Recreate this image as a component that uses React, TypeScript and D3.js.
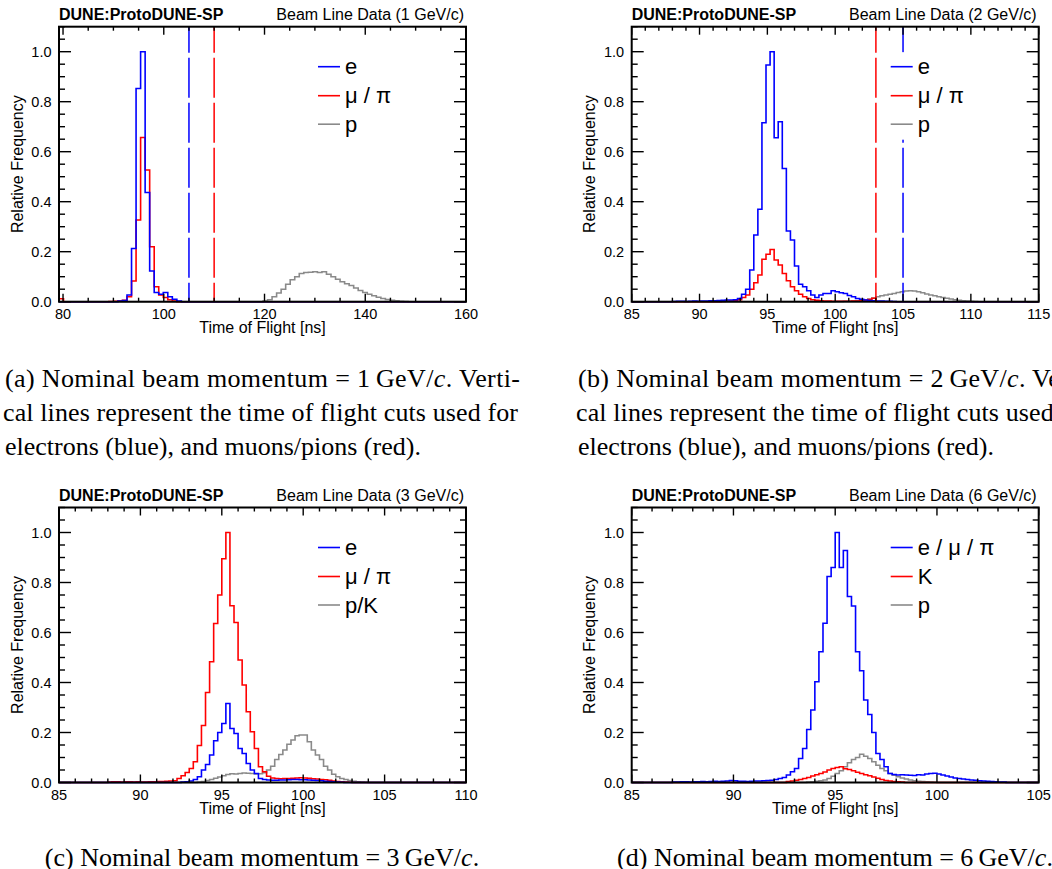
import React from 'react';
import * as d3 from 'd3';

// ---------------- DATA ----------------
// Panel (a): 1 GeV/c, bins of 0.9 ns
const A_DOMAIN = [79.2, 160];
const A_BIN = 0.9;
const A_X_TICKS = [80, 100, 120, 140, 160];
const A_E_START = 90.9;
const A_E = [0.003, 0.005, 0.027, 0.213, 0.853, 1.0, 0.437, 0.123, 0.037, 0.03, 0.037, 0.02, 0.01, 0.003];
const A_MU_START = 79.2;
const A_MU = [0.012, 0, 0, 0, 0, 0, 0, 0, 0, 0, 0, 0.001, 0.002, 0.003, 0.006, 0.02, 0.083, 0.327, 0.657, 0.527, 0.22, 0.06, 0.027, 0.017, 0.008, 0.003];
const A_P_START = 119.7;
const A_P = [0.003, 0.008, 0.02, 0.035, 0.05, 0.07, 0.088, 0.1, 0.113, 0.117, 0.118, 0.12, 0.117, 0.12, 0.11, 0.1, 0.09, 0.08, 0.072, 0.065, 0.055, 0.045, 0.037, 0.03, 0.024, 0.018, 0.013, 0.009, 0.006, 0.004, 0.002, 0.001];
const A_CUTS = [105, 110];

// Panel (b): 2 GeV/c, bins of 0.3 ns
const B_DOMAIN = [85, 115];
const B_BIN = 0.3;
const B_X_TICKS = [85, 90, 95, 100, 105, 110, 115];
const B_E_START = 88.0;
const B_E = [0.001, 0.002, 0.002, 0.001, 0.002, 0.003, 0.002, 0.003, 0.003, 0.004, 0.004, 0.005, 0.006, 0.007, 0.007,
  0.008, 0.013, 0.03, 0.05, 0.127, 0.267, 0.37, 0.716, 0.947, 1.0, 0.656, 0.72, 0.533, 0.283, 0.247, 0.143, 0.07, 0.06,
  0.044, 0.027, 0.017, 0.027, 0.033, 0.033, 0.044, 0.04, 0.036, 0.033, 0.025, 0.02, 0.013, 0.01, 0.007, 0.005, 0.004,
  0.003, 0.003, 0.002, 0.002, 0.001];
const B_MU_START = 91.6;
const B_MU = [0.001, 0.002, 0.003, 0.005, 0.008, 0.017, 0.027, 0.05, 0.076, 0.107, 0.17, 0.19, 0.209, 0.167, 0.147, 0.113,
  0.084, 0.06, 0.044, 0.03, 0.02, 0.013, 0.008, 0.006, 0.004, 0.003, 0.003, 0.002, 0.002, 0.002, 0.002, 0.002, 0.003,
  0.003, 0.004, 0.006, 0.009, 0.014];
const B_P_START = 100.0;
const B_P = [0.001, 0.001, 0.002, 0.002, 0.003, 0.004, 0.006, 0.008, 0.011, 0.015, 0.02, 0.024, 0.027, 0.03, 0.033, 0.037,
  0.04, 0.043, 0.044, 0.043, 0.04, 0.036, 0.031, 0.027, 0.024, 0.02, 0.017, 0.014, 0.011, 0.008, 0.006, 0.004, 0.003,
  0.002, 0.001];
const B_CUTS = [105, 103];

// Panel (c): 3 GeV/c, bins of 0.25 ns
const C_DOMAIN = [85, 110];
const C_BIN = 0.25;
const C_X_TICKS = [85, 90, 95, 100, 105, 110];
const C_E_START = 92.5;
const C_E = [0.002, 0.003, 0.006, 0.012, 0.023, 0.05, 0.072, 0.11, 0.167, 0.2, 0.236, 0.316, 0.216, 0.196, 0.136, 0.116,
  0.076, 0.05, 0.036, 0.016, 0.012, 0.01, 0.009, 0.009, 0.01, 0.01, 0.011, 0.012, 0.012, 0.011, 0.011, 0.01, 0.009,
  0.008, 0.007, 0.005, 0.004, 0.003, 0.002, 0.001];
const C_MU_START = 88.0;
const C_MU = [0.002, 0.003, 0.003, 0.002, 0.003, 0.003, 0.002, 0.003, 0.002, 0.002, 0.003, 0.003, 0.004, 0.004, 0.005,
  0.006, 0.007, 0.016, 0.027, 0.04, 0.056, 0.083, 0.148, 0.228, 0.36, 0.483, 0.636, 0.75, 0.895, 1.0, 0.707, 0.64, 0.49,
  0.39, 0.283, 0.203, 0.136, 0.063, 0.043, 0.025, 0.018, 0.016, 0.015, 0.016, 0.016, 0.017, 0.018, 0.019, 0.018, 0.017,
  0.015, 0.014, 0.012, 0.011, 0.009, 0.006, 0.004, 0.003, 0.002, 0.001];
const C_P_START = 93.5;
const C_P = [0.002, 0.004, 0.008, 0.012, 0.017, 0.022, 0.027, 0.032, 0.035, 0.034, 0.036, 0.038, 0.037, 0.036, 0.034,
  0.035, 0.039, 0.05, 0.065, 0.092, 0.112, 0.13, 0.153, 0.17, 0.187, 0.19, 0.19, 0.163, 0.13, 0.11, 0.092, 0.065, 0.05,
  0.033, 0.023, 0.016, 0.012, 0.008, 0.005, 0.003, 0.002, 0.001];

// Panel (d): 6 GeV/c, bins of 0.2 ns
const D_DOMAIN = [85, 105];
const D_BIN = 0.2;
const D_X_TICKS = [85, 90, 95, 100, 105];
const D_E_START = 87.0;
const D_E = [0.002, 0.002, 0.003, 0.003, 0.002, 0.003, 0.003, 0.004, 0.003, 0.004, 0.005, 0.004, 0.005, 0.006, 0.008,
  0.007, 0.005, 0.005, 0.004, 0.005, 0.006, 0.006, 0.007, 0.008, 0.009, 0.012, 0.016, 0.02, 0.03, 0.043, 0.056, 0.096,
  0.136, 0.212, 0.29, 0.403, 0.523, 0.637, 0.824, 0.86, 1.0, 0.86, 0.928, 0.744, 0.706, 0.523, 0.447, 0.33, 0.272, 0.2,
  0.116, 0.092, 0.063, 0.036, 0.032, 0.03, 0.031, 0.03, 0.029, 0.028, 0.031, 0.03, 0.034, 0.036, 0.037, 0.034, 0.03,
  0.026, 0.022, 0.018, 0.016, 0.014, 0.012, 0.01, 0.009, 0.007, 0.006, 0.005, 0.004, 0.003, 0.002, 0.002];
const D_K_START = 92.6;
const D_K = [0.004, 0.006, 0.009, 0.012, 0.016, 0.02, 0.026, 0.031, 0.036, 0.042, 0.05, 0.056, 0.06, 0.063, 0.055, 0.052,
  0.047, 0.041, 0.036, 0.031, 0.027, 0.022, 0.017, 0.012, 0.008, 0.006, 0.004, 0.003, 0.002];
const D_P_START = 93.6;
const D_P = [0.002, 0.003, 0.005, 0.007, 0.01, 0.016, 0.025, 0.036, 0.047, 0.063, 0.079, 0.092, 0.1, 0.113, 0.105, 0.096,
  0.083, 0.069, 0.056, 0.047, 0.036, 0.029, 0.023, 0.018, 0.014, 0.01, 0.007, 0.005, 0.004, 0.003, 0.002, 0.001];

const Y_TICKS = [0, 0.2, 0.4, 0.6, 0.8, 1.0];
const Y_MAX = 1.1;

// ---------------- STYLE ----------------
const W = 1052;
const H = 869;
const FRAME_W = 407;
const FRAME_H = 275;
const SANS = "'Liberation Sans', Arial, Helvetica, sans-serif";
const SERIF = "'Liberation Serif', 'Times New Roman', Times, serif";
const BLUE = '#0000ff';
const RED = '#ff0000';
const GREY = '#8a8a8a';

type Series = { start: number; values: number[]; color: string; label: string };

type PanelProps = {
  left: number;
  top: number;
  domain: number[];
  bin: number;
  xTicks: number[];
  minorStep: number;
  series: Series[];
  cuts?: { value: number; color: string }[];
  momentum: string;
};

function histPath(x: any, y: any, domain: number[], s: Series, bin: number) {
  const p = d3.path();
  p.moveTo(x(domain[0]), y(0));
  p.lineTo(x(s.start), y(0));
  s.values.forEach((v, i) => {
    p.lineTo(x(s.start + i * bin), y(v));
    p.lineTo(x(s.start + (i + 1) * bin), y(v));
  });
  p.lineTo(x(s.start + s.values.length * bin), y(0));
  p.lineTo(x(domain[1]), y(0));
  return p.toString();
}

function Panel(props: PanelProps) {
  const { left, top, domain, bin, xTicks, minorStep, series, cuts, momentum } = props;
  const x = d3.scaleLinear().domain(domain).range([left, left + FRAME_W]);
  const y = d3.scaleLinear().domain([0, Y_MAX]).range([top + FRAME_H, top]);
  const bottom = top + FRAME_H;
  const right = left + FRAME_W;
  const xMinor = d3.range(Math.ceil(domain[0] / minorStep) * minorStep, domain[1] + 1e-6, minorStep);
  const yMinor = d3.range(0, Y_MAX + 1e-6, 0.05);
  const fmtY = d3.format('.1f');
  const drawOrder = [...series].reverse();
  const legX = left + 259;
  const legRows = [40, 69, 97.5];

  return (
    <g>
      {/* histograms */}
      {drawOrder.map((s, i) => (
        <path key={'h' + i} d={histPath(x, y, domain, s, bin)} fill="none" stroke={s.color} strokeWidth={1.6} strokeLinejoin="miter" />
      ))}
      {/* cut lines */}
      {(cuts || []).map((c, i) => (
        <line key={'c' + i} x1={x(c.value)} x2={x(c.value)} y1={top} y2={bottom} stroke={c.color} strokeWidth={1.5}
          strokeDasharray="40 5" strokeDashoffset={14} />
      ))}
      {/* legend */}
      <rect x={legX - 6} y={top + legRows[0] - 14.5} width={118} height={legRows[2] - legRows[0] + 30} fill="#fff" />
      {series.map((s, i) => (
        <g key={'l' + i}>
          <line x1={legX} x2={legX + 22} y1={top + legRows[i]} y2={top + legRows[i]} stroke={s.color} strokeWidth={1.6} />
          <text x={legX + 27} y={top + legRows[i] + 7.5} fontFamily={SANS} fontSize={22} fill="#000">{s.label}</text>
        </g>
      ))}
      {/* ticks */}
      {yMinor.map((v, i) => {
        const major = Y_TICKS.some(t => Math.abs(t - v) < 1e-6);
        const len = major ? 12 : 6;
        return (
          <g key={'yt' + i}>
            <line x1={left} x2={left + len} y1={y(v)} y2={y(v)} stroke="#000" strokeWidth={1.4} />
            <line x1={right} x2={right - len} y1={y(v)} y2={y(v)} stroke="#000" strokeWidth={1.4} />
          </g>
        );
      })}
      {xMinor.map((v, i) => {
        const major = xTicks.some(t => Math.abs(t - v) < 1e-6);
        const len = major ? 8 : 4;
        return (
          <g key={'xt' + i}>
            <line x1={x(v)} x2={x(v)} y1={bottom} y2={bottom - len} stroke="#000" strokeWidth={1.4} />
            <line x1={x(v)} x2={x(v)} y1={top} y2={top + len} stroke="#000" strokeWidth={1.4} />
          </g>
        );
      })}
      {/* frame */}
      <rect x={left} y={top} width={FRAME_W} height={FRAME_H} fill="none" stroke="#000" strokeWidth={2} />
      {/* tick labels */}
      {Y_TICKS.map((v, i) => (
        <text key={'yl' + i} x={left - 7.5} y={y(v) + 5} textAnchor="end" fontFamily={SANS} fontSize={14.5} fill="#000">{fmtY(v)}</text>
      ))}
      {xTicks.map((v, i) => (
        <text key={'xl' + i} x={x(v)} y={bottom + 17.6} textAnchor="middle" fontFamily={SANS} fontSize={14.5} fill="#000">{v}</text>
      ))}
      {/* axis titles */}
      <text x={(left + right) / 2} y={bottom + 31.5} textAnchor="middle" fontFamily={SANS} fontSize={16} fill="#000">Time of Flight [ns]</text>
      <text transform={`translate(${left - 36.5},${(top + bottom) / 2}) rotate(-90)`} textAnchor="middle" fontFamily={SANS} fontSize={16} fill="#000">Relative Frequency</text>
      {/* header */}
      <text x={left} y={top - 6.7} fontFamily={SANS} fontSize={16} fontWeight="bold" fill="#000">DUNE:ProtoDUNE-SP</text>
      <text x={right - 2} y={top - 6.7} textAnchor="end" fontFamily={SANS} fontSize={16} fill="#000">{`Beam Line Data (${momentum} GeV/c)`}</text>
    </g>
  );
}

function Caption({ x, y, letter, mom, extra, length, anchor }: any) {
  return (
    <text x={x} y={y} fontFamily={SERIF} fontSize={26} fill="#000" textAnchor={anchor || 'start'}
      textLength={length} lengthAdjust={length ? 'spacing' : undefined}>
      {`(${letter}) Nominal beam momentum = ${mom}\u2009GeV/`}<tspan fontStyle="italic">c</tspan>{`.${extra}`}
    </text>
  );
}

export default function App() {
  const L1 = 59;
  const L2 = 631.7;
  const T1 = 26.7;
  const T2 = 507.5;
  return (
    <div style={{ position: 'absolute', left: 0, top: 0, width: W, height: H, overflow: 'hidden', background: '#fff' }}>
      <svg width={W} height={H} viewBox={`0 0 ${W} ${H}`} style={{ display: 'block' }}>
        <rect x={0} y={0} width={W} height={H} fill="#fff" />
        <Panel left={L1} top={T1} domain={A_DOMAIN} bin={A_BIN} xTicks={A_X_TICKS} minorStep={5} momentum="1"
          series={[
            { start: A_E_START, values: A_E, color: BLUE, label: 'e' },
            { start: A_MU_START, values: A_MU, color: RED, label: 'μ / π' },
            { start: A_P_START, values: A_P, color: GREY, label: 'p' },
          ]}
          cuts={[{ value: A_CUTS[0], color: BLUE }, { value: A_CUTS[1], color: RED }]} />
        <Panel left={L2} top={T1} domain={B_DOMAIN} bin={B_BIN} xTicks={B_X_TICKS} minorStep={1} momentum="2"
          series={[
            { start: B_E_START, values: B_E, color: BLUE, label: 'e' },
            { start: B_MU_START, values: B_MU, color: RED, label: 'μ / π' },
            { start: B_P_START, values: B_P, color: GREY, label: 'p' },
          ]}
          cuts={[{ value: B_CUTS[0], color: BLUE }, { value: B_CUTS[1], color: RED }]} />
        <Panel left={L1} top={T2} domain={C_DOMAIN} bin={C_BIN} xTicks={C_X_TICKS} minorStep={1} momentum="3"
          series={[
            { start: C_E_START, values: C_E, color: BLUE, label: 'e' },
            { start: C_MU_START, values: C_MU, color: RED, label: 'μ / π' },
            { start: C_P_START, values: C_P, color: GREY, label: 'p/K' },
          ]} />
        <Panel left={L2} top={T2} domain={D_DOMAIN} bin={D_BIN} xTicks={D_X_TICKS} minorStep={1} momentum="6"
          series={[
            { start: D_E_START, values: D_E, color: BLUE, label: 'e / μ / π' },
            { start: D_K_START, values: D_K, color: RED, label: 'K' },
            { start: D_P_START, values: D_P, color: GREY, label: 'p' },
          ]} />

        {/* captions */}
        <Caption x={5} y={386.7} letter="a" mom="1" extra=" Verti-" length={515} />
        <text x={3} y={421} fontFamily={SERIF} fontSize={26} textLength={515} lengthAdjust="spacing">cal lines represent the time of flight cuts used for</text>
        <text x={5} y={455} fontFamily={SERIF} fontSize={26}>electrons (blue), and muons/pions (red).</text>

        <Caption x={578} y={386.7} letter="b" mom="2" extra=" Verti-" length={515} />
        <text x={576} y={421} fontFamily={SERIF} fontSize={26} textLength={515} lengthAdjust="spacing">cal lines represent the time of flight cuts used for</text>
        <text x={578} y={455} fontFamily={SERIF} fontSize={26}>electrons (blue), and muons/pions (red).</text>

        <Caption x={262} y={866} letter="c" mom="3" extra="" anchor="middle" />
        <Caption x={835} y={866} letter="d" mom="6" extra="" anchor="middle" />
      </svg>
    </div>
  );
}
